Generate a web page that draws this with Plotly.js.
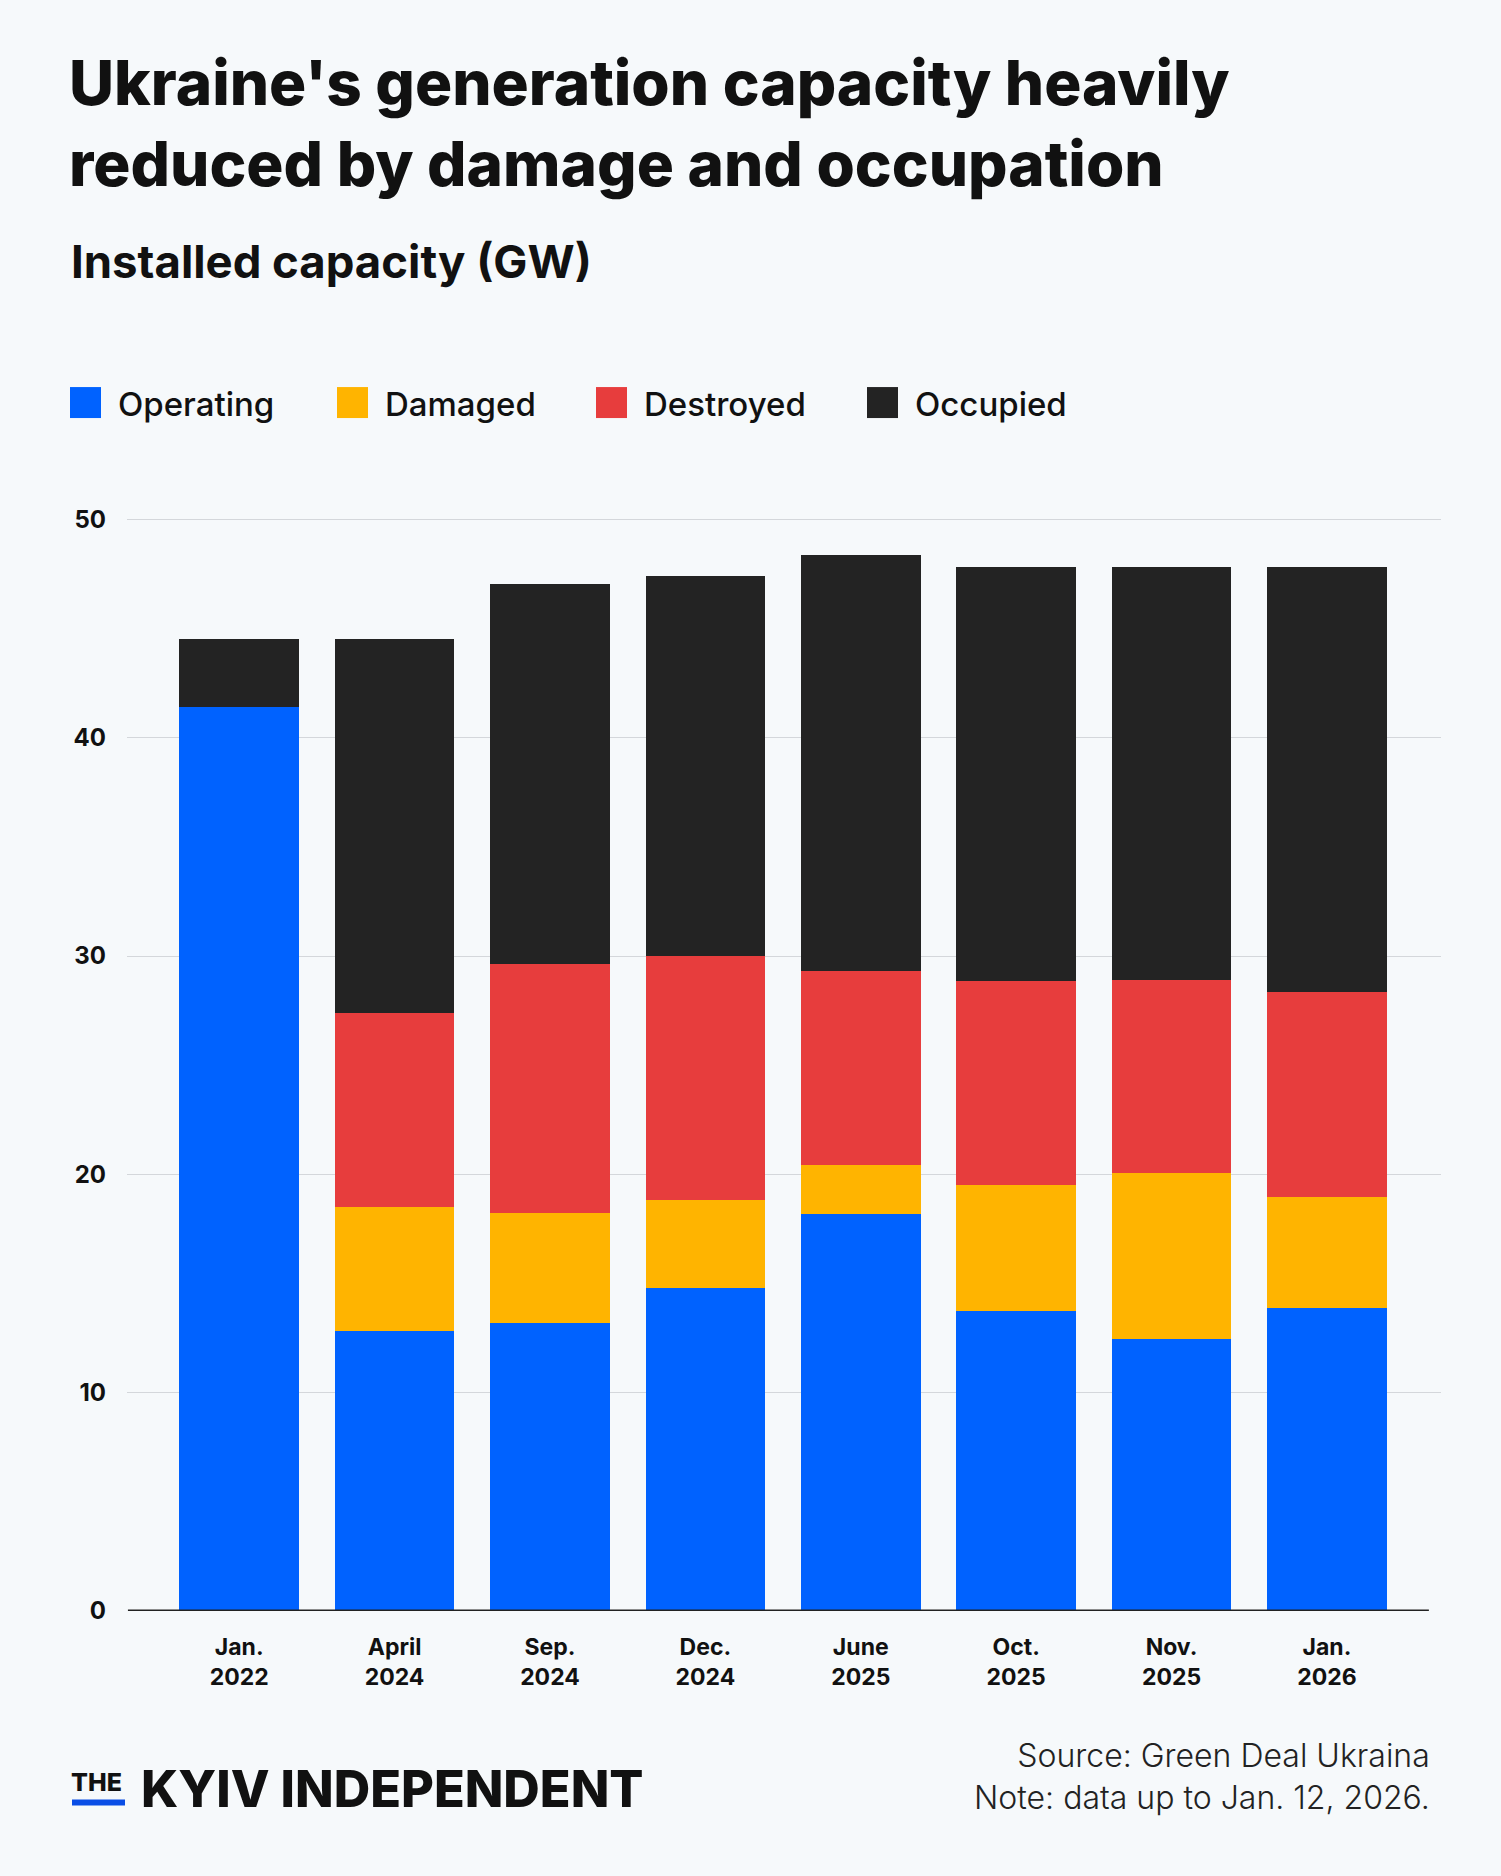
<!DOCTYPE html>
<html>
<head>
<meta charset="utf-8">
<script src="https://cdn.plot.ly/plotly-3.0.1.min.js"></script>
<style>
  html, body { margin: 0; padding: 0; background: #f6f9fb; }
  #chart { width: 1501px; height: 1876px; }
</style>
</head>
<body>
<div id="chart"></div>
<script>
// ---- Data (GW) ----
const categories = ["Jan. 2022", "April 2024", "Sep. 2024", "Dec. 2024", "June 2025", "Oct. 2025", "Nov. 2025", "Jan. 2026"];
const tickLabels = ["Jan.<br>2022", "April<br>2024", "Sep.<br>2024", "Dec.<br>2024", "June<br>2025", "Oct.<br>2025", "Nov.<br>2025", "Jan.<br>2026"];
const operating = [41.40, 12.84, 13.17, 14.81, 18.20, 13.76, 12.48, 13.90];
const damaged   = [0, 5.68, 5.04, 4.02, 2.23, 5.77, 7.58, 5.08];
const destroyed = [0, 8.87, 11.44, 11.15, 8.88, 9.34, 8.82, 9.38];
const occupied  = [3.13, 17.14, 17.41, 17.43, 19.05, 18.94, 18.93, 19.45];
const seriesNames = ["Operating", "Damaged", "Destroyed", "Occupied"];
const yTicks = [0, 10, 20, 30, 40, 50];

// ---- Styling ----
const colors = ["#0062ff", "#ffb400", "#e73d3d", "#232323"];
const W = 1501, H = 1876;
const ML = 127, MR = 60, MT = 515, MB = 264.5;
const plotW = W - ML - MR, plotH = H - MT - MB;
const px = x => (x - ML) / plotW;           // pixel -> paper x
const py = y => (H - MB - y) / plotH;       // pixel -> paper y
const FONT = "Inter, 'Noto Sans', sans-serif";

const seriesValues = [operating, damaged, destroyed, occupied];
const traces = seriesNames.map((name, i) => ({
  type: "bar",
  name: name,
  x: categories,
  y: seriesValues[i],
  marker: { color: colors[i], line: { width: 0 } },
  showlegend: false,
  hoverinfo: "x+y+name"
}));

// legend drawn with shapes + annotations
const legendSquares = [70, 337, 596, 867];
const shapes = [];
const annotations = [];
seriesNames.forEach((name, i) => {
  shapes.push({
    type: "rect", xref: "paper", yref: "paper",
    x0: px(legendSquares[i]), x1: px(legendSquares[i] + 31),
    y0: py(418), y1: py(387),
    fillcolor: colors[i], line: { width: 0 }
  });
  annotations.push({
    xref: "paper", yref: "paper",
    x: px(legendSquares[i] + 46), y: py(404),
    xanchor: "left", yanchor: "middle",
    text: name, showarrow: false,
    font: { family: FONT, size: 33, color: "#111", weight: 500 }
  });
});

// baseline
shapes.push({
  type: "line", xref: "x", yref: "y",
  x0: -0.716, x1: 7.656, y0: 0, y1: 0,
  line: { color: "#222", width: 3 }
});

// subtitle
annotations.push({
  xref: "paper", yref: "paper", x: px(69), y: py(261),
  xanchor: "left", yanchor: "middle", showarrow: false,
  text: "Installed capacity (GW)",
  font: { family: FONT, size: 45.5, color: "#111", weight: 700 }
});

// footer logo
annotations.push({
  xref: "paper", yref: "paper", x: px(69), y: py(1783),
  xanchor: "left", yanchor: "middle", showarrow: false,
  text: "THE",
  font: { family: FONT, size: 25, color: "#111", weight: 800 }
});
shapes.push({
  type: "rect", xref: "paper", yref: "paper",
  x0: px(72), x1: px(125), y0: py(1806), y1: py(1800),
  fillcolor: "#0a4ee6", line: { width: 0 }
});
annotations.push({
  xref: "paper", yref: "paper", x: px(139), y: py(1789),
  xanchor: "left", yanchor: "middle", showarrow: false,
  text: "KYIV INDEPENDENT",
  font: { family: FONT, size: 50.5, color: "#111", weight: 800 }
});

// source / note
annotations.push({
  xref: "paper", yref: "paper", x: px(1432), y: py(1777),
  xanchor: "right", yanchor: "middle", align: "right", showarrow: false,
  text: "Source: Green Deal Ukraina<br>Note: data up to Jan. 12, 2026.",
  font: { family: FONT, size: 32, color: "#222", weight: 300 }
});

const layout = {
  width: W, height: H,
  paper_bgcolor: "#f6f9fb",
  plot_bgcolor: "#f6f9fb",
  margin: { l: ML, r: MR, t: MT, b: MB, pad: 0 },
  barmode: "stack",
  bargap: 0.23,
  title: {
    text: "Ukraine's generation capacity heavily<br>reduced by damage and occupation",
    xref: "container", yref: "container",
    x: 69 / W, xanchor: "left",
    y: 1 - 105 / H, yanchor: "top",
    font: { family: FONT, size: 62, color: "#111", weight: 800 }
  },
  xaxis: {
    type: "category",
    range: [-0.722, 7.734],
    tickvals: categories,
    ticktext: tickLabels,
    showgrid: false,
    zeroline: false,
    showline: false,
    ticks: "",
    ticklabelstandoff: 20,
    tickfont: { family: FONT, size: 23, color: "#111", weight: 700 },
    fixedrange: true
  },
  yaxis: {
    range: [0, 50.2],
    tickvals: yTicks,
    ticktext: yTicks.map(String),
    showgrid: true,
    gridcolor: "#d4d7db",
    gridwidth: 1.2,
    zeroline: false,
    showline: false,
    ticks: "",
    ticklabelstandoff: 20,
    tickfont: { family: FONT, size: 24, color: "#111", weight: 700 },
    fixedrange: true
  },
  shapes: shapes,
  annotations: annotations,
  hovermode: "closest"
};

Plotly.newPlot("chart", traces, layout, { displayModeBar: false, staticPlot: false });
</script>
</body>
</html>
